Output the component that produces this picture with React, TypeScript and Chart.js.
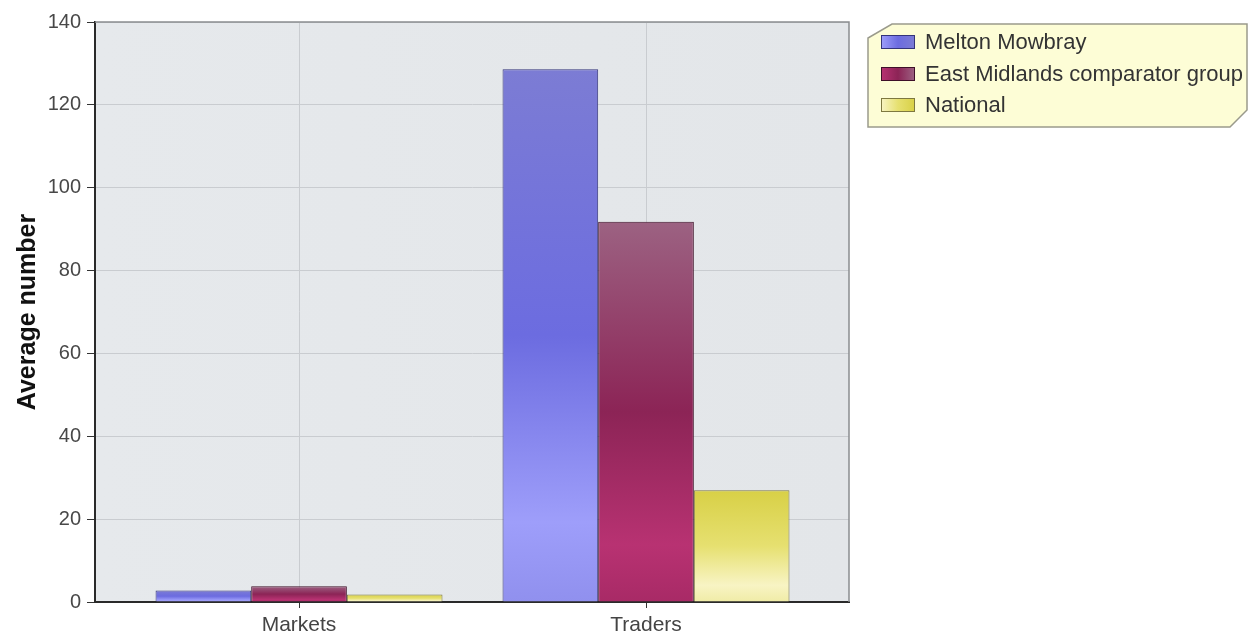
import React, { useEffect, useRef } from "react";
import { Chart, registerables } from "chart.js";

Chart.register(...registerables);

const categories = ["Markets", "Traders"];
const seriesNames = ["Melton Mowbray", "East Midlands comparator group", "National"];
const meltonValues = [2.8, 128.6];
const eastMidlandsValues = [3.8, 91.8];
const nationalValues = [1.8, 27.0];
const yTicks = [0, 20, 40, 60, 80, 100, 120, 140];

const FONT = "'Liberation Sans', Arial, sans-serif";

const gradientStops: string[][] = [
  ["#7c7cd4", "#6c6ce0", "#9e9efa", "#9090ee"],
  ["#9c6282", "#8c2456", "#b83272", "#a82a66"],
  ["#d8d046", "#e6e070", "#f8f4c4", "#f0eca6"],
];
const borderColors = ["#34347a", "#3e1028", "#7e7840"];

function barFill(idx: number) {
  return (context: any) => {
    const chart = context.chart;
    const stops = gradientStops[idx];
    if (!chart.chartArea || !context.parsed) return stops[1];
    const ys = chart.scales.y;
    const top = ys.getPixelForValue(context.parsed.y);
    const bottom = ys.getPixelForValue(0);
    if (!isFinite(top) || !isFinite(bottom) || bottom - top < 1) return stops[1];
    const g = chart.ctx.createLinearGradient(0, top, 0, bottom);
    g.addColorStop(0, stops[0]);
    g.addColorStop(0.5, stops[1]);
    g.addColorStop(0.85, stops[2]);
    g.addColorStop(1, stops[3]);
    return g;
  };
}

const plotBackground = {
  id: "plotBackground",
  beforeDraw(chart: any) {
    const { ctx, chartArea: a } = chart;
    ctx.save();
    const g = ctx.createLinearGradient(a.left, 0, a.right, 0);
    g.addColorStop(0, "#e6e9ec");
    g.addColorStop(1, "#e3e6e9");
    ctx.fillStyle = g;
    ctx.fillRect(a.left, a.top, a.right - a.left, a.bottom - a.top);
    ctx.restore();
  },
  afterDraw(chart: any) {
    const { ctx, chartArea: a } = chart;
    ctx.save();
    ctx.strokeStyle = "#8a8d90";
    ctx.lineWidth = 1.5;
    ctx.beginPath();
    ctx.moveTo(a.left, a.top);
    ctx.lineTo(a.right, a.top);
    ctx.lineTo(a.right, a.bottom);
    ctx.stroke();
    ctx.restore();
  },
};

const customLegend = {
  id: "customLegend",
  afterDraw(chart: any) {
    const ctx = chart.ctx;
    const x0 = 868, y0 = 24, x1 = 1247, y1 = 127;
    ctx.save();
    ctx.beginPath();
    ctx.moveTo(x0 + 24, y0);
    ctx.lineTo(x1, y0);
    ctx.lineTo(x1, y1 - 17);
    ctx.lineTo(x1 - 17, y1);
    ctx.lineTo(x0, y1);
    ctx.lineTo(x0, y0 + 14);
    ctx.closePath();
    ctx.fillStyle = "#fdfdd6";
    ctx.fill();
    ctx.strokeStyle = "#9a9a8c";
    ctx.lineWidth = 1.5;
    ctx.stroke();
    const rows = [42, 74, 105];
    chart.data.datasets.forEach((ds: any, i: number) => {
      const cy = rows[i];
      const stops = gradientStops[i];
      const g = ctx.createLinearGradient(881, 0, 915, 0);
      g.addColorStop(0, stops[2]);
      g.addColorStop(0.5, stops[1]);
      g.addColorStop(1, stops[0]);
      ctx.fillStyle = g;
      ctx.fillRect(881, cy - 7, 34, 14);
      ctx.strokeStyle = borderColors[i];
      ctx.lineWidth = 1;
      ctx.strokeRect(881.5, cy - 6.5, 33, 13);
      ctx.fillStyle = "#333";
      ctx.font = `22px ${FONT}`;
      ctx.textBaseline = "middle";
      ctx.textAlign = "left";
      ctx.fillText(ds.label, 925, cy + 1);
    });
    ctx.restore();
  },
};

export default function App() {
  const ref = useRef<HTMLCanvasElement | null>(null);
  useEffect(() => {
    if (!ref.current) return;
    const seriesValues = [meltonValues, eastMidlandsValues, nationalValues];
    const chart = new Chart(ref.current, {
      type: "bar",
      data: {
        datasets: seriesValues.map((vals, i) => ({
          label: seriesNames[i],
          data: vals.map((v, j) => ({ x: j, y: v })),
          backgroundColor: barFill(i),
          borderColor: borderColors[i],
          borderWidth: 1,
          categoryPercentage: 0.827,
          barPercentage: 1,
        })),
      },
      options: {
        animation: false,
        responsive: false,
        maintainAspectRatio: false,
        layout: { padding: { left: 0, top: 22, right: 406, bottom: 0 } },
        plugins: {
          legend: { display: false },
          tooltip: { enabled: false },
        },
        scales: {
          x: {
            type: "linear",
            offset: false,
            min: -0.588,
            max: 1.585,
            afterBuildTicks: (s: any) => {
              s.ticks = categories.map((_, i) => ({ value: i }));
            },
            afterFit: (s: any) => {
              s.height = 35;
            },
            ticks: {
              autoSkip: false,
              callback: (v: any) => categories[v] ?? "",
              color: "#444",
              font: { family: FONT, size: 21 },
              padding: 5,
            },
            grid: { offset: false, color: "#c9ccd0", tickColor: "#333", tickLength: 6 },
            border: { color: "#2a2a2a", width: 2 },
          },
          y: {
            type: "linear",
            min: 0,
            max: 140,
            afterBuildTicks: (s: any) => {
              s.ticks = yTicks.map((v) => ({ value: v }));
            },
            afterFit: (s: any) => {
              s.width = 95;
            },
            ticks: {
              color: "#484848",
              font: { family: FONT, size: 20 },
              padding: 6,
            },
            grid: { color: "#c9ccd0", tickColor: "#333", tickLength: 8 },
            border: { color: "#2a2a2a", width: 2 },
            title: {
              display: true,
              text: "Average number",
              color: "#111",
              font: { family: FONT, size: 25, weight: "bold" },
              padding: { top: 13, bottom: 0 },
            },
          },
        },
      },
      plugins: [plotBackground, customLegend],
    } as any);
    return () => chart.destroy();
  }, []);
  return (
    <div style={{ position: "fixed", left: 0, top: 0, width: 1255, height: 637, background: "#fff" }}>
      <canvas ref={ref} width={1255} height={637} style={{ display: "block", width: 1255, height: 637 }} />
    </div>
  );
}
